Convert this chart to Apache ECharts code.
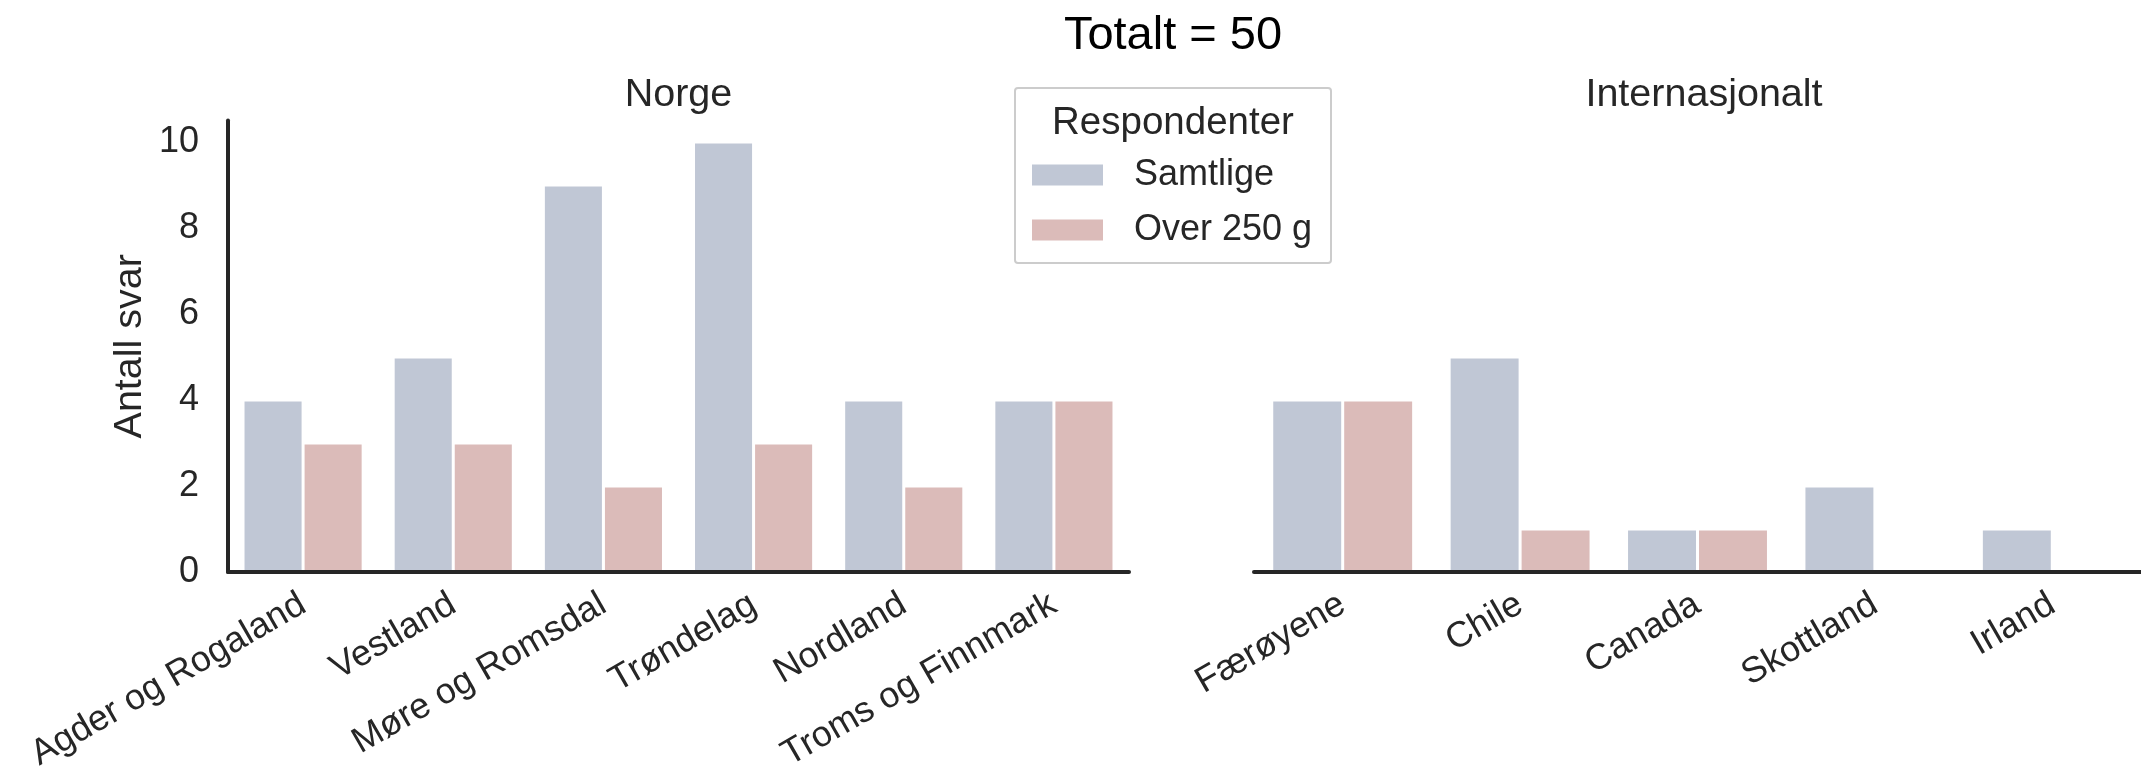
<!DOCTYPE html>
<html>
<head>
<meta charset="utf-8">
<script src="https://cdn.jsdelivr.net/npm/echarts@6/dist/echarts.min.js"></script>
<style>
html,body{margin:0;padding:0;background:#fff;}
#chart{width:2141px;height:779px;}
</style>
</head>
<body>
<div id="chart"></div>
<script>
const suptitle = 'Totalt = 50';
const panelTitles = ['Norge', 'Internasjonalt'];
const seriesNames = ['Samtlige', 'Over 250 g'];
const legendTitle = 'Respondenter';
const yAxisName = 'Antall svar';
const yTicks = [0, 2, 4, 6, 8, 10];

const norgeCategories = ['Agder og Rogaland', 'Vestland', 'Møre og Romsdal', 'Trøndelag', 'Nordland', 'Troms og Finnmark'];
const norgeSamtlige = [4, 5, 9, 10, 4, 4];
const norgeOver250 = [3, 3, 2, 3, 2, 4];

const intCategories = ['Færøyene', 'Chile', 'Canada', 'Skottland', 'Irland'];
const intSamtlige = [4, 5, 1, 2, 1];
const intOver250 = [4, 1, 1, 0, 0];

const FONT = '"Liberation Sans", Arial, sans-serif';
const TEXT = '#262626';
const BLUE = '#c0c7d5';
const PINK = '#dbbbb9';

function barData(arr) {
  return arr.map(v => v === 0 ? { value: 0, itemStyle: { borderWidth: 0, opacity: 0 } } : v);
}

const chart = echarts.init(document.getElementById('chart'), null, { renderer: 'canvas' });

const xAxisCommon = {
  type: 'category',
  z: 10,
  axisLine: { lineStyle: { color: TEXT, width: 4 } },
  axisTick: { show: false },
  axisLabel: { rotate: 30, margin: 30, fontSize: 36, color: TEXT, fontFamily: FONT, interval: 0 },
  splitLine: { show: false }
};
const yAxisCommon = {
  type: 'value', min: 0, max: 10.5, interval: 2, z: 10,
  splitLine: { show: false },
  axisTick: { show: false }
};

const barCommon = {
  type: 'bar',
  barGap: '0%',
  barCategoryGap: '20%'
};

chart.setOption({
  animation: false,
  backgroundColor: '#fff',
  grid: [
    { left: 228, top: 120.5, width: 901, height: 451.5 },
    { left: 1254, top: 120.5, width: 900, height: 451.5 }
  ],
  xAxis: [
    Object.assign({}, xAxisCommon, { gridIndex: 0, data: norgeCategories }),
    Object.assign({}, xAxisCommon, { gridIndex: 1, data: intCategories })
  ],
  yAxis: [
    Object.assign({}, yAxisCommon, {
      gridIndex: 0,
      axisLine: { show: true, lineStyle: { color: TEXT, width: 4 } },
      axisLabel: { fontSize: 36, color: TEXT, fontFamily: FONT, margin: 29,
        formatter: v => yTicks.includes(v) ? String(v) : '' },
      name: yAxisName, nameLocation: 'middle', nameGap: 78, nameRotate: 90,
      nameTextStyle: { fontSize: 39.5, color: TEXT, fontFamily: FONT }
    }),
    Object.assign({}, yAxisCommon, {
      gridIndex: 1,
      axisLine: { show: false },
      axisLabel: { show: false }
    })
  ],
  legend: {
    data: seriesNames,
    orient: 'vertical',
    left: 1032, top: 157,
    padding: 0,
    itemWidth: 71, itemHeight: 21, itemGap: 19,
    icon: 'rect',
    itemStyle: { borderWidth: 0 },
    textStyle: { fontSize: 36, color: TEXT, fontFamily: FONT, lineHeight: 36, padding: [0, 0, 0, 26] },
    z: 20
  },
  graphic: [
    { type: 'rect', z: 15, shape: { x: 1015, y: 88, width: 316, height: 175, r: 3 },
      style: { fill: '#fff', stroke: '#cccccc', lineWidth: 2 } },
    { type: 'text', z: 20, x: 1173, y: 123,
      style: { text: legendTitle, fontSize: 38.5, fontFamily: FONT, fill: TEXT, align: 'center', verticalAlign: 'middle' } },
    { type: 'text', z: 20, x: 1173, y: 36,
      style: { text: suptitle, fontSize: 47, fontFamily: FONT, fill: '#000', align: 'center', verticalAlign: 'middle' } },
    { type: 'text', z: 20, x: 678.5, y: 95,
      style: { text: panelTitles[0], fontSize: 39.5, fontFamily: FONT, fill: TEXT, align: 'center', verticalAlign: 'middle' } },
    { type: 'text', z: 20, x: 1704, y: 95,
      style: { text: panelTitles[1], fontSize: 39.5, fontFamily: FONT, fill: TEXT, align: 'center', verticalAlign: 'middle' } }
  ],
  series: [
    Object.assign({}, barCommon, { name: seriesNames[0], xAxisIndex: 0, yAxisIndex: 0, data: barData(norgeSamtlige), itemStyle: { color: BLUE, borderColor: '#fff', borderWidth: 1.5 } }),
    Object.assign({}, barCommon, { name: seriesNames[1], xAxisIndex: 0, yAxisIndex: 0, data: barData(norgeOver250), itemStyle: { color: PINK, borderColor: '#fff', borderWidth: 1.5 } }),
    Object.assign({}, barCommon, { name: seriesNames[0], xAxisIndex: 1, yAxisIndex: 1, data: barData(intSamtlige), itemStyle: { color: BLUE, borderColor: '#fff', borderWidth: 1.5 } }),
    Object.assign({}, barCommon, { name: seriesNames[1], xAxisIndex: 1, yAxisIndex: 1, data: barData(intOver250), itemStyle: { color: PINK, borderColor: '#fff', borderWidth: 1.5 } })
  ]
});
</script>
</body>
</html>
